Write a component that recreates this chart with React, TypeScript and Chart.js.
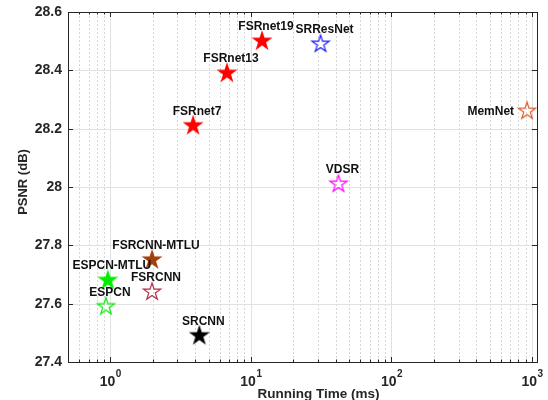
import React, { useEffect, useRef } from 'react';
import { Chart, registerables } from 'chart.js';

Chart.register(...registerables);

const methods = ['FSRnet19', 'FSRnet13', 'FSRnet7', 'SRResNet', 'MemNet', 'VDSR', 'FSRCNN-MTLU', 'ESPCN-MTLU', 'FSRCNN', 'ESPCN', 'SRCNN'];
const runningTimeMs = [12.0, 6.76, 3.88, 31.3, 922, 42, 1.98, 0.96, 1.98, 0.93, 4.3];
const psnrDb = [28.5, 28.39, 28.21, 28.49, 28.26, 28.01, 27.75, 27.68, 27.64, 27.59, 27.49];
const markerColors = ['#ff0000', '#ff0000', '#ff0000', '#1a1aff', '#dd5a28', '#ff00ff', '#a4400c', '#00ee00', '#b02a48', '#00ee00', '#000000'];
const markerFilled = [true, true, true, false, false, false, true, true, false, false, true];
const labelSide = ['top', 'top', 'top', 'top', 'left', 'top', 'top', 'top', 'top', 'top', 'top'];
const yTicks = [27.4, 27.6, 27.8, 28, 28.2, 28.4, 28.6];
const xDecadeExponents = [0, 1, 2, 3];
const xMin = 0.5;
const xMax = 1085;
const yMin = 27.4;
const yMax = 28.6;

const FONT = '"Liberation Sans", Arial, Helvetica, sans-serif';

function makeStar(color: string, filled: boolean, R: number): HTMLCanvasElement {
  const size = Math.ceil(2 * R + 4);
  const c = document.createElement('canvas');
  c.width = size;
  c.height = size;
  const ctx = c.getContext('2d')!;
  const cx = size / 2;
  const cy = size / 2;
  const r = R * 0.382;
  ctx.beginPath();
  for (let i = 0; i < 10; i++) {
    const ang = -Math.PI / 2 + (i * Math.PI) / 5;
    const rad = i % 2 === 0 ? R : r;
    const px = cx + rad * Math.cos(ang);
    const py = cy + rad * Math.sin(ang);
    if (i === 0) ctx.moveTo(px, py);
    else ctx.lineTo(px, py);
  }
  ctx.closePath();
  if (filled) {
    ctx.fillStyle = color;
    ctx.fill();
  } else {
    ctx.strokeStyle = color;
    ctx.lineWidth = 1.2;
    ctx.stroke();
  }
  return c;
}

const decorPlugin = {
  id: 'decor',
  beforeDatasetsDraw(chart: any) {
    const { ctx, chartArea } = chart;
    const xs = chart.scales.x;
    const ys = chart.scales.y;
    const { left, right, top, bottom } = chartArea;
    ctx.save();
    ctx.strokeStyle = '#d6d6d6';
    ctx.lineWidth = 1;
    ctx.setLineDash([2, 2]);
    for (let d = -1; d <= 3; d++) {
      for (let k = 2; k <= 9; k++) {
        const v = k * Math.pow(10, d);
        if (v <= xMin || v >= xMax) continue;
        const px = Math.round(xs.getPixelForValue(v)) + 0.5;
        ctx.beginPath();
        ctx.moveTo(px, top);
        ctx.lineTo(px, bottom);
        ctx.stroke();
      }
    }
    ctx.setLineDash([]);
    ctx.strokeStyle = '#e2e2e2';
    for (const e of xDecadeExponents) {
      const px = Math.round(xs.getPixelForValue(Math.pow(10, e))) + 0.5;
      ctx.beginPath();
      ctx.moveTo(px, top);
      ctx.lineTo(px, bottom);
      ctx.stroke();
    }
    for (const v of yTicks) {
      const py = Math.round(ys.getPixelForValue(v)) + 0.5;
      ctx.beginPath();
      ctx.moveTo(left, py);
      ctx.lineTo(right, py);
      ctx.stroke();
    }
    ctx.restore();
  },
  afterDatasetsDraw(chart: any) {
    const { ctx, chartArea } = chart;
    const xs = chart.scales.x;
    const ys = chart.scales.y;
    const { left, right, top, bottom } = chartArea;
    ctx.save();
    ctx.strokeStyle = '#262626';
    ctx.lineWidth = 1;
    ctx.strokeRect(Math.round(left) + 0.5, Math.round(top) + 0.5, Math.round(right - left), Math.round(bottom - top));
    ctx.beginPath();
    for (const v of yTicks) {
      const py = Math.round(ys.getPixelForValue(v)) + 0.5;
      ctx.moveTo(left, py);
      ctx.lineTo(left + 5, py);
      ctx.moveTo(right, py);
      ctx.lineTo(right - 5, py);
    }
    for (let d = -1; d <= 3; d++) {
      for (let k = 1; k <= 9; k++) {
        const v = k * Math.pow(10, d);
        if (v <= xMin || v >= xMax) continue;
        const len = k === 1 ? 5 : 2.5;
        const px = Math.round(xs.getPixelForValue(v)) + 0.5;
        ctx.moveTo(px, bottom);
        ctx.lineTo(px, bottom - len);
        ctx.moveTo(px, top);
        ctx.lineTo(px, top + len);
      }
    }
    ctx.stroke();

    ctx.fillStyle = '#262626';
    ctx.font = `bold 14px ${FONT}`;
    ctx.textAlign = 'right';
    ctx.textBaseline = 'middle';
    for (const v of yTicks) {
      const py = ys.getPixelForValue(v);
      ctx.fillText(Number(v.toFixed(1)).toString(), left - 6, py);
    }
    ctx.textAlign = 'left';
    ctx.textBaseline = 'alphabetic';
    for (const e of xDecadeExponents) {
      const px = xs.getPixelForValue(Math.pow(10, e));
      ctx.font = `bold 14px ${FONT}`;
      const wBase = ctx.measureText('10').width;
      ctx.font = `bold 10px ${FONT}`;
      const wSup = ctx.measureText(String(e)).width;
      const start = px - (wBase + wSup) / 2;
      ctx.font = `bold 14px ${FONT}`;
      ctx.fillText('10', start, bottom + 24);
      ctx.font = `bold 10px ${FONT}`;
      ctx.fillText(String(e), start + wBase + 0.5, bottom + 15);
    }
    ctx.font = `bold 13.5px ${FONT}`;
    ctx.textAlign = 'center';
    ctx.fillText('Running Time (ms)', (left + right) / 2 + 16, bottom + 36);
    ctx.save();
    ctx.translate(23, 182);
    ctx.rotate(-Math.PI / 2);
    ctx.textBaseline = 'middle';
    ctx.font = `bold 13px ${FONT}`;
    ctx.fillText('PSNR (dB)', 0, 0);
    ctx.restore();

    const meta = chart.getDatasetMeta(0);
    ctx.fillStyle = '#111111';
    ctx.font = `bold 12px ${FONT}`;
    ctx.textBaseline = 'alphabetic';
    meta.data.forEach((el: any, i: number) => {
      if (labelSide[i] === 'left') {
        ctx.textAlign = 'right';
        ctx.fillText(methods[i], el.x - 13, el.y + 4);
      } else {
        ctx.textAlign = 'center';
        ctx.fillText(methods[i], el.x + 4, el.y - 11);
      }
    });
    ctx.restore();
  },
};

export default function App() {
  const canvasRef = useRef<HTMLCanvasElement | null>(null);

  useEffect(() => {
    document.body.style.margin = '0';
    const canvas = canvasRef.current;
    if (!canvas) return;
    const stars = markerColors.map((c, i) => makeStar(c, markerFilled[i], markerFilled[i] ? 11 : 9));
    const chart = new Chart(canvas, {
      type: 'scatter',
      data: {
        datasets: [
          {
            data: runningTimeMs.map((x, i) => ({ x, y: psnrDb[i] })),
            pointStyle: stars as any,
            pointRadius: 10,
            pointHoverRadius: 10,
            clip: false as any,
          },
        ],
      },
      options: {
        responsive: false,
        animation: false,
        devicePixelRatio: 1,
        layout: { padding: { left: 68, right: 10, top: 12, bottom: 38 } },
        plugins: { legend: { display: false }, tooltip: { enabled: false } },
        scales: {
          x: { type: 'logarithmic', min: xMin, max: xMax, display: false },
          y: { type: 'linear', min: yMin, max: yMax, display: false },
        },
      },
      plugins: [decorPlugin],
    });
    return () => chart.destroy();
  }, []);

  return (
    <div style={{ width: 548, height: 400, background: '#ffffff' }}>
      <canvas ref={canvasRef} width={548} height={400} style={{ display: 'block' }} />
    </div>
  );
}
